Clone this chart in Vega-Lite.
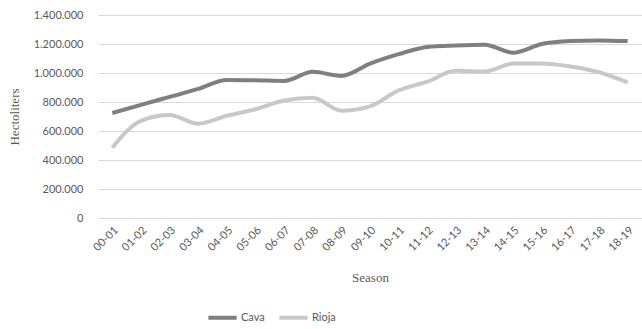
{
  "$schema": "https://vega.github.io/schema/vega-lite/v6.json",
  "width": 544,
  "height": 203,
  "autosize": "none",
  "padding": {"left": 98, "right": 0, "top": 15, "bottom": 111},
  "config": {
    "locale": {"number": {"decimal": ",", "thousands": ".", "grouping": [3], "currency": ["", " €"]}},
    "view": {"stroke": null},
    "axis": {"labelFont": "Lato", "labelColor": "#595959", "labelFontSize": 11, "titleFont": "Liberation Serif", "titleColor": "#595959", "titleFontSize": 13, "titleFontWeight": "normal", "gridColor": "#d9d9d9", "domain": false, "ticks": false},
    "legend": {"labelFont": "Lato", "labelColor": "#595959", "labelFontSize": 11}
  },
  "data": {"values": [
    {"season": "00-01", "type": "Cava", "hl": 724000}, {"season": "01-02", "type": "Cava", "hl": 780000},
    {"season": "02-03", "type": "Cava", "hl": 835000}, {"season": "03-04", "type": "Cava", "hl": 890000},
    {"season": "04-05", "type": "Cava", "hl": 952000}, {"season": "05-06", "type": "Cava", "hl": 950000},
    {"season": "06-07", "type": "Cava", "hl": 945000}, {"season": "07-08", "type": "Cava", "hl": 1008000},
    {"season": "08-09", "type": "Cava", "hl": 980000}, {"season": "09-10", "type": "Cava", "hl": 1065000},
    {"season": "10-11", "type": "Cava", "hl": 1130000}, {"season": "11-12", "type": "Cava", "hl": 1180000},
    {"season": "12-13", "type": "Cava", "hl": 1190000}, {"season": "13-14", "type": "Cava", "hl": 1195000},
    {"season": "14-15", "type": "Cava", "hl": 1140000}, {"season": "15-16", "type": "Cava", "hl": 1200000},
    {"season": "16-17", "type": "Cava", "hl": 1220000}, {"season": "17-18", "type": "Cava", "hl": 1225000},
    {"season": "18-19", "type": "Cava", "hl": 1220000},
    {"season": "00-01", "type": "Rioja", "hl": 485000}, {"season": "01-02", "type": "Rioja", "hl": 670000},
    {"season": "02-03", "type": "Rioja", "hl": 710000}, {"season": "03-04", "type": "Rioja", "hl": 650000},
    {"season": "04-05", "type": "Rioja", "hl": 705000}, {"season": "05-06", "type": "Rioja", "hl": 750000},
    {"season": "06-07", "type": "Rioja", "hl": 810000}, {"season": "07-08", "type": "Rioja", "hl": 830000},
    {"season": "08-09", "type": "Rioja", "hl": 740000}, {"season": "09-10", "type": "Rioja", "hl": 770000},
    {"season": "10-11", "type": "Rioja", "hl": 880000}, {"season": "11-12", "type": "Rioja", "hl": 940000},
    {"season": "12-13", "type": "Rioja", "hl": 1015000}, {"season": "13-14", "type": "Rioja", "hl": 1010000},
    {"season": "14-15", "type": "Rioja", "hl": 1065000}, {"season": "15-16", "type": "Rioja", "hl": 1065000},
    {"season": "16-17", "type": "Rioja", "hl": 1045000}, {"season": "17-18", "type": "Rioja", "hl": 1005000},
    {"season": "18-19", "type": "Rioja", "hl": 935000}
  ]},
  "mark": {"type": "line", "strokeWidth": 4, "interpolate": "monotone"},
  "encoding": {
    "x": {"field": "season", "type": "ordinal", "title": "Season", "scale": {"type": "band", "paddingInner": 0, "paddingOuter": 0}, "axis": {"labelAngle": -45, "grid": false, "labelPadding": 6, "titlePadding": 19}},
    "y": {"field": "hl", "type": "quantitative", "title": "Hectoliters", "scale": {"domain": [0, 1400000]}, "axis": {"format": ",d", "tickCount": 7, "labelPadding": 15, "titlePadding": 12}},
    "color": {"field": "type", "type": "nominal", "scale": {"domain": ["Cava", "Rioja"], "range": ["#7f7f7f", "#c8c8c8"]}, "legend": {"orient": "none", "legendX": 108, "legendY": 286, "direction": "horizontal", "title": null, "symbolType": "stroke", "symbolStrokeWidth": 4, "symbolSize": 800, "columnPadding": 6, "labelOffset": 2}}
  }
}
